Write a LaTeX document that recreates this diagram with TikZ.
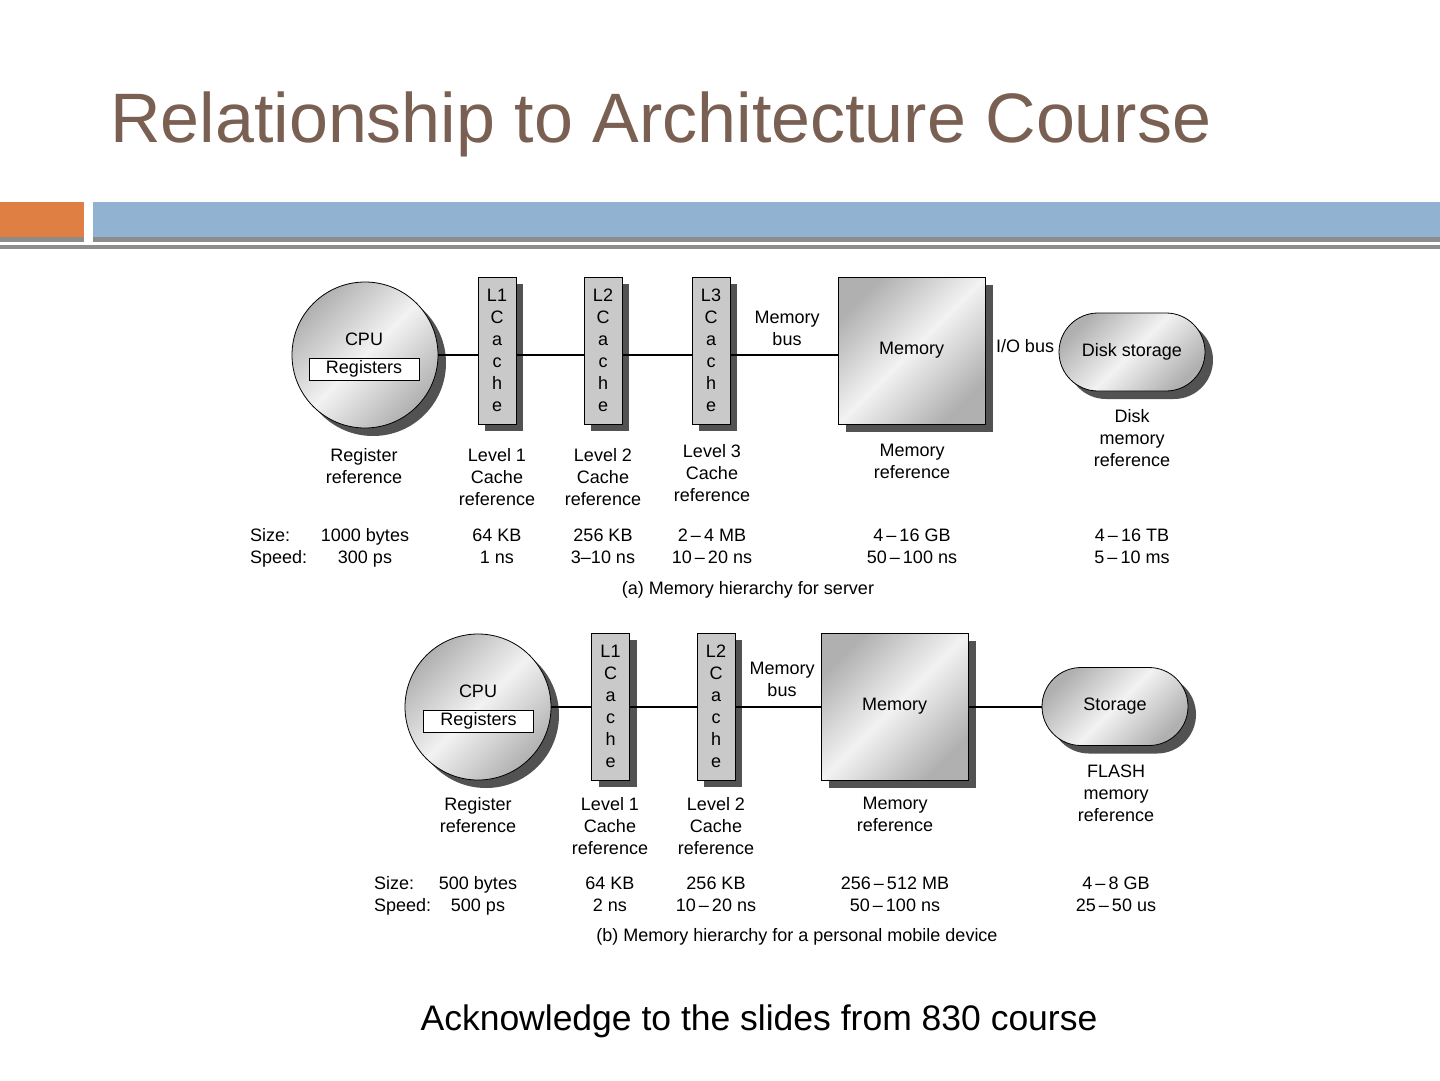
\documentclass[tikz,border=0pt]{standalone}
\usepackage{fontspec}
\setmainfont{Liberation Sans}
\usetikzlibrary{shadows,shapes.misc}
\definecolor{titlebrown}{RGB}{122,96,82}
\definecolor{barorange}{RGB}{224,127,68}
\definecolor{barblue}{RGB}{146,178,209}
\definecolor{bargray}{RGB}{140,140,140}
\begin{document}
\begin{tikzpicture}[x=1pt,y=-1pt,
  lab/.style={font=\fontsize{18}{22}\selectfont, align=center, inner sep=0pt},
  shadowed/.style={general shadow={fill=black!68, shadow xshift=8pt, shadow yshift=-8pt}},
  grad/.style={left color=gray!62, right color=gray!62, middle color=gray!10, shading angle=45},
  cpubox/.style={circle, draw=black, line width=0.8pt, grad, shadowed, minimum size=146pt, inner sep=0pt},
  regbox/.style={draw=black, line width=0.8pt, fill=white, minimum width=110pt, minimum height=22pt, inner sep=0pt, font=\fontsize{18}{22}\selectfont},
  cachebox/.style={draw=black, line width=0.8pt, fill=gray!42, general shadow={fill=black!68, shadow xshift=7pt, shadow yshift=-7pt}, minimum width=38pt, minimum height=147pt, inner sep=0pt, align=center, font=\fontsize{18}{22}\selectfont},
  membox/.style={draw=black, line width=0.8pt, grad, shadowed, minimum width=147pt, minimum height=147pt, inner sep=0pt, font=\fontsize{18}{22}\selectfont},
  storebox/.style={rounded rectangle, draw=black, line width=0.8pt, grad, shadowed, minimum width=146pt, minimum height=78pt, inner sep=0pt, font=\fontsize{18}{22}\selectfont},
  conn/.style={draw=black, line width=1.2pt},
  vallab/.style={lab, anchor=base}
]
\useasboundingbox (0,0) rectangle (1440,1080);
\fill[white] (0,0) rectangle (1440,1080);
% header
\node[anchor=base west, inner sep=0pt, text=titlebrown, font=\fontsize{70}{84}\selectfont] (title) at (110,142) {Relationship to Architecture Course};
\fill[barorange] (0,202) rectangle (84,237);
\fill[barblue] (93,202) rectangle (1440,237);
\fill[bargray] (0,237) rectangle (84,242);
\fill[bargray] (93,237) rectangle (1440,242);
\fill[bargray] (0,245) rectangle (1440,249);

% ===== (a) server =====
\node[cpubox] (cpuA) at (365,355) {};
\node[lab] (cpuAt) at (364,339) {CPU};
\node[regbox] (regA) at (364,369) {Registers};
\node[cachebox] (l1A) at (497,350.5) {L1\\C\\a\\c\\h\\e};
\node[cachebox] (l2A) at (603,350.5) {L2\\C\\a\\c\\h\\e};
\node[cachebox] (l3A) at (711,350.5) {L3\\C\\a\\c\\h\\e};
\node[membox] (memA) at (911.5,350.5) {Memory};
\node[storebox] (diskA) at (1132,352) {Disk storage};
\draw[conn] (cpuA.east) -- (cpuA.east -| l1A.west);
\draw[conn] (l1A.east |- cpuA.east) -- (l2A.west |- cpuA.east);
\draw[conn] (l2A.east |- cpuA.east) -- (l3A.west |- cpuA.east);
\draw[conn] (l3A.east |- cpuA.east) -- (memA.west |- cpuA.east);
\node[lab, anchor=north] (mbusA) at (787,311) {Memory\\bus};
\node[vallab] (iobusA) at (1025,352.5) {I/O bus};

\node[lab, anchor=north] (refRA) at (364,448) {Register\\reference};
\node[lab, anchor=north] (ref1A) at (497,448) {Level 1\\Cache\\reference};
\node[lab, anchor=north] (ref2A) at (603,448) {Level 2\\Cache\\reference};
\node[lab, anchor=north] (ref3A) at (712,444) {Level 3\\Cache\\reference};
\node[lab, anchor=north] (refMA) at (912,444) {Memory\\reference};
\node[lab, anchor=north] (refDA) at (1132,409) {Disk\\memory\\reference};

\node[lab, anchor=base west] (sizeA) at (250,541.5) {Size:};
\node[lab, anchor=base west] (speedA) at (250,563.5) {Speed:};
\node[vallab] (s1A) at (365,541.5) {1000 bytes};
\node[vallab] (s2A) at (497,541.5) {64 KB};
\node[vallab] (s3A) at (603,541.5) {256 KB};
\node[vallab] (s4A) at (712,541.5) {2\,–\,4 MB};
\node[vallab] (s5A) at (912,541.5) {4\,–\,16 GB};
\node[vallab] (s6A) at (1132,541.5) {4\,–\,16 TB};
\node[vallab] (v1A) at (365,563.5) {300 ps};
\node[vallab] (v2A) at (497,563.5) {1 ns};
\node[vallab] (v3A) at (603,563.5) {3–10 ns};
\node[vallab] (v4A) at (712,563.5) {10\,–\,20 ns};
\node[vallab] (v5A) at (912,563.5) {50\,–\,100 ns};
\node[vallab] (v6A) at (1132,563.5) {5\,–\,10 ms};
\node[vallab] (capA) at (748,594.5) {(a) Memory hierarchy for server};

% ===== (b) mobile =====
\node[cpubox] (cpuB) at (478,707) {};
\node[lab] (cpuBt) at (478,691) {CPU};
\node[regbox] (regB) at (478.5,721) {Registers};
\node[cachebox] (l1B) at (610.5,706.5) {L1\\C\\a\\c\\h\\e};
\node[cachebox] (l2B) at (716,706.5) {L2\\C\\a\\c\\h\\e};
\node[membox] (memB) at (894.5,706.5) {Memory};
\node[storebox] (storB) at (1115,706.5) {Storage};
\draw[conn] (cpuB.east) -- (cpuB.east -| l1B.west);
\draw[conn] (l1B.east |- cpuB.east) -- (l2B.west |- cpuB.east);
\draw[conn] (l2B.east |- cpuB.east) -- (memB.west |- cpuB.east);
\draw[conn] (memB.east |- cpuB.east) -- (storB.west |- cpuB.east);
\node[lab, anchor=north] (mbusB) at (782,662) {Memory\\bus};

\node[lab, anchor=north] (refRB) at (478,797) {Register\\reference};
\node[lab, anchor=north] (ref1B) at (610,797) {Level 1\\Cache\\reference};
\node[lab, anchor=north] (ref2B) at (716,797) {Level 2\\Cache\\reference};
\node[lab, anchor=north] (refMB) at (895,797) {Memory\\reference};
\node[lab, anchor=north] (refFB) at (1116,765) {FLASH\\memory\\reference};

\node[lab, anchor=base west] (sizeB) at (374,889.5) {Size:};
\node[lab, anchor=base west] (speedB) at (374,911.5) {Speed:};
\node[vallab] (s1B) at (478,889.5) {500 bytes};
\node[vallab] (s2B) at (610,889.5) {64 KB};
\node[vallab] (s3B) at (716,889.5) {256 KB};
\node[vallab] (s4B) at (895,889.5) {256\,–\,512 MB};
\node[vallab] (s5B) at (1116,889.5) {4\,–\,8 GB};
\node[vallab] (v1B) at (478,911.5) {500 ps};
\node[vallab] (v2B) at (610,911.5) {2 ns};
\node[vallab] (v3B) at (716,911.5) {10\,–\,20 ns};
\node[vallab] (v4B) at (895,911.5) {50\,–\,100 ns};
\node[vallab] (v5B) at (1116,911.5) {25\,–\,50 us};
\node[vallab] (capB) at (797,941.5) {(b) Memory hierarchy for a personal mobile device};

% footer
\node[anchor=base, inner sep=0pt, font=\fontsize{35.5}{42}\selectfont] (ack) at (759,1030) {Acknowledge to the slides from 830 course};
\end{tikzpicture}
\end{document}
